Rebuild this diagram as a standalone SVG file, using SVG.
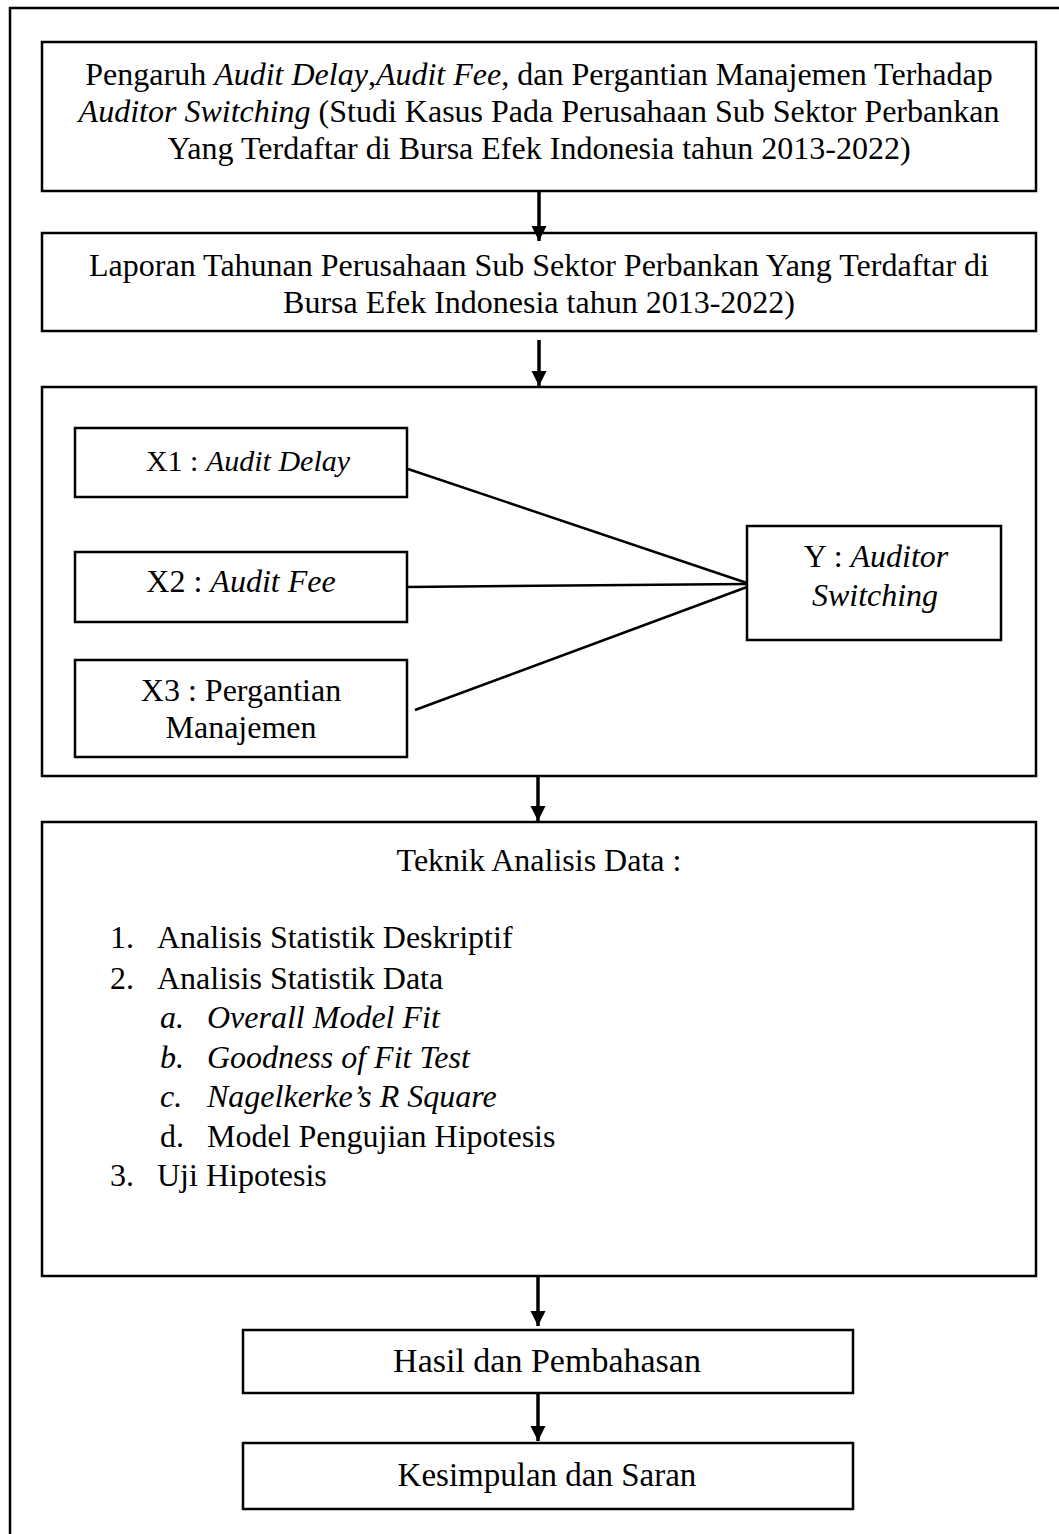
<svg xmlns="http://www.w3.org/2000/svg" width="1059" height="1534" viewBox="0 0 1059 1534">
<style>
.box{fill:#fff;stroke:#000;stroke-width:2.5}
.t{font-family:"Liberation Serif","Times New Roman",serif;font-size:32px;fill:#000}
.c{text-anchor:middle}
.i{font-style:italic}
.ln{stroke:#000;stroke-width:2.5;fill:none}
.ar{stroke:#000;stroke-width:3.5;fill:none}
</style>
<defs>
<marker id="ah" markerWidth="16" markerHeight="16" refX="15" refY="7.5" orient="auto" markerUnits="userSpaceOnUse">
<path d="M0,0 L15,7.5 L0,15 Z" fill="#000"/>
</marker>
</defs>
<rect width="1059" height="1534" fill="#fff"/>
<g id="frame">
<path d="M10,1534 L10,8 L1059,8" class="ln"/>
</g>
<g id="n1">
<rect x="42" y="42" width="994" height="149" class="box"/>
<text class="t c" x="539" y="85">Pengaruh <tspan class="i">Audit Delay</tspan>,<tspan class="i">Audit Fee</tspan>, dan Pergantian Manajemen Terhadap</text>
<text class="t c" x="539" y="122"><tspan class="i">Auditor Switching</tspan> (Studi Kasus Pada Perusahaan Sub Sektor Perbankan</text>
<text class="t c" x="539" y="159">Yang Terdaftar di Bursa Efek Indonesia tahun 2013-2022)</text>
</g>
<g id="n2">
<rect x="42" y="233" width="994" height="98" class="box"/>
<text class="t c" x="539" y="276">Laporan Tahunan Perusahaan Sub Sektor Perbankan Yang Terdaftar di</text>
<text class="t c" x="539" y="313">Bursa Efek Indonesia tahun 2013-2022)</text>
</g>
<g id="n3">
<rect x="42" y="387" width="994" height="389" class="box"/>
</g>
<g id="x1">
<rect x="75" y="428" width="332" height="69" class="box"/>
<text class="t c" x="248" y="471" style="font-size:30px">X1 : <tspan class="i">Audit Delay</tspan></text>
</g>
<g id="x2">
<rect x="75" y="552" width="332" height="70" class="box"/>
<text class="t c" x="241" y="592">X2 : <tspan class="i">Audit Fee</tspan></text>
</g>
<g id="x3">
<rect x="75" y="660" width="332" height="97" class="box"/>
<text class="t c" x="241" y="701">X3 : Pergantian</text>
<text class="t c" x="241" y="738">Manajemen</text>
</g>
<g id="y">
<rect x="747" y="526" width="254" height="114" class="box"/>
<text class="t c" x="876" y="567">Y : <tspan class="i">Auditor</tspan></text>
<text class="t c i" x="875" y="606">Switching</text>
</g>
<g id="n4">
<rect x="42" y="822" width="994" height="454" class="box"/>
<text class="t c" x="539" y="871">Teknik Analisis Data :</text>
<text class="t" x="110" y="948">1.</text><text class="t" x="157" y="948">Analisis Statistik Deskriptif</text>
<text class="t" x="110" y="989">2.</text><text class="t" x="157" y="989">Analisis Statistik Data</text>
<text class="t i" x="160" y="1028">a.</text><text class="t i" x="207" y="1028">Overall Model Fit</text>
<text class="t i" x="160" y="1068">b.</text><text class="t i" x="207" y="1068">Goodness of Fit Test</text>
<text class="t i" x="160" y="1107">c.</text><text class="t i" x="207" y="1107">Nagelkerke’s R Square</text>
<text class="t" x="160" y="1147">d.</text><text class="t" x="207" y="1147">Model Pengujian Hipotesis</text>
<text class="t" x="110" y="1186">3.</text><text class="t" x="157" y="1186">Uji Hipotesis</text>
</g>
<g id="n5">
<rect x="243" y="1330" width="610" height="63" class="box"/>
<text class="t c" x="547" y="1372" style="font-size:34px">Hasil dan Pembahasan</text>
</g>
<g id="n6">
<rect x="243" y="1443" width="610" height="66" class="box"/>
<text class="t c" x="547" y="1486" style="font-size:33px">Kesimpulan dan Saran</text>
</g>
<g id="connectors">
<line x1="539" y1="191" x2="539" y2="241" class="ar" marker-end="url(#ah)"/>
<line x1="539" y1="340" x2="539" y2="386" class="ar" marker-end="url(#ah)"/>
<line x1="538" y1="777" x2="538" y2="821" class="ar" marker-end="url(#ah)"/>
<line x1="538" y1="1277" x2="538" y2="1326" class="ar" marker-end="url(#ah)"/>
<line x1="538" y1="1394" x2="538" y2="1441" class="ar" marker-end="url(#ah)"/>
<line x1="408" y1="469" x2="747" y2="583" class="ln"/>
<line x1="408" y1="587" x2="747" y2="584" class="ln"/>
<line x1="415" y1="710" x2="747" y2="587" class="ln"/>
</g>
</svg>
